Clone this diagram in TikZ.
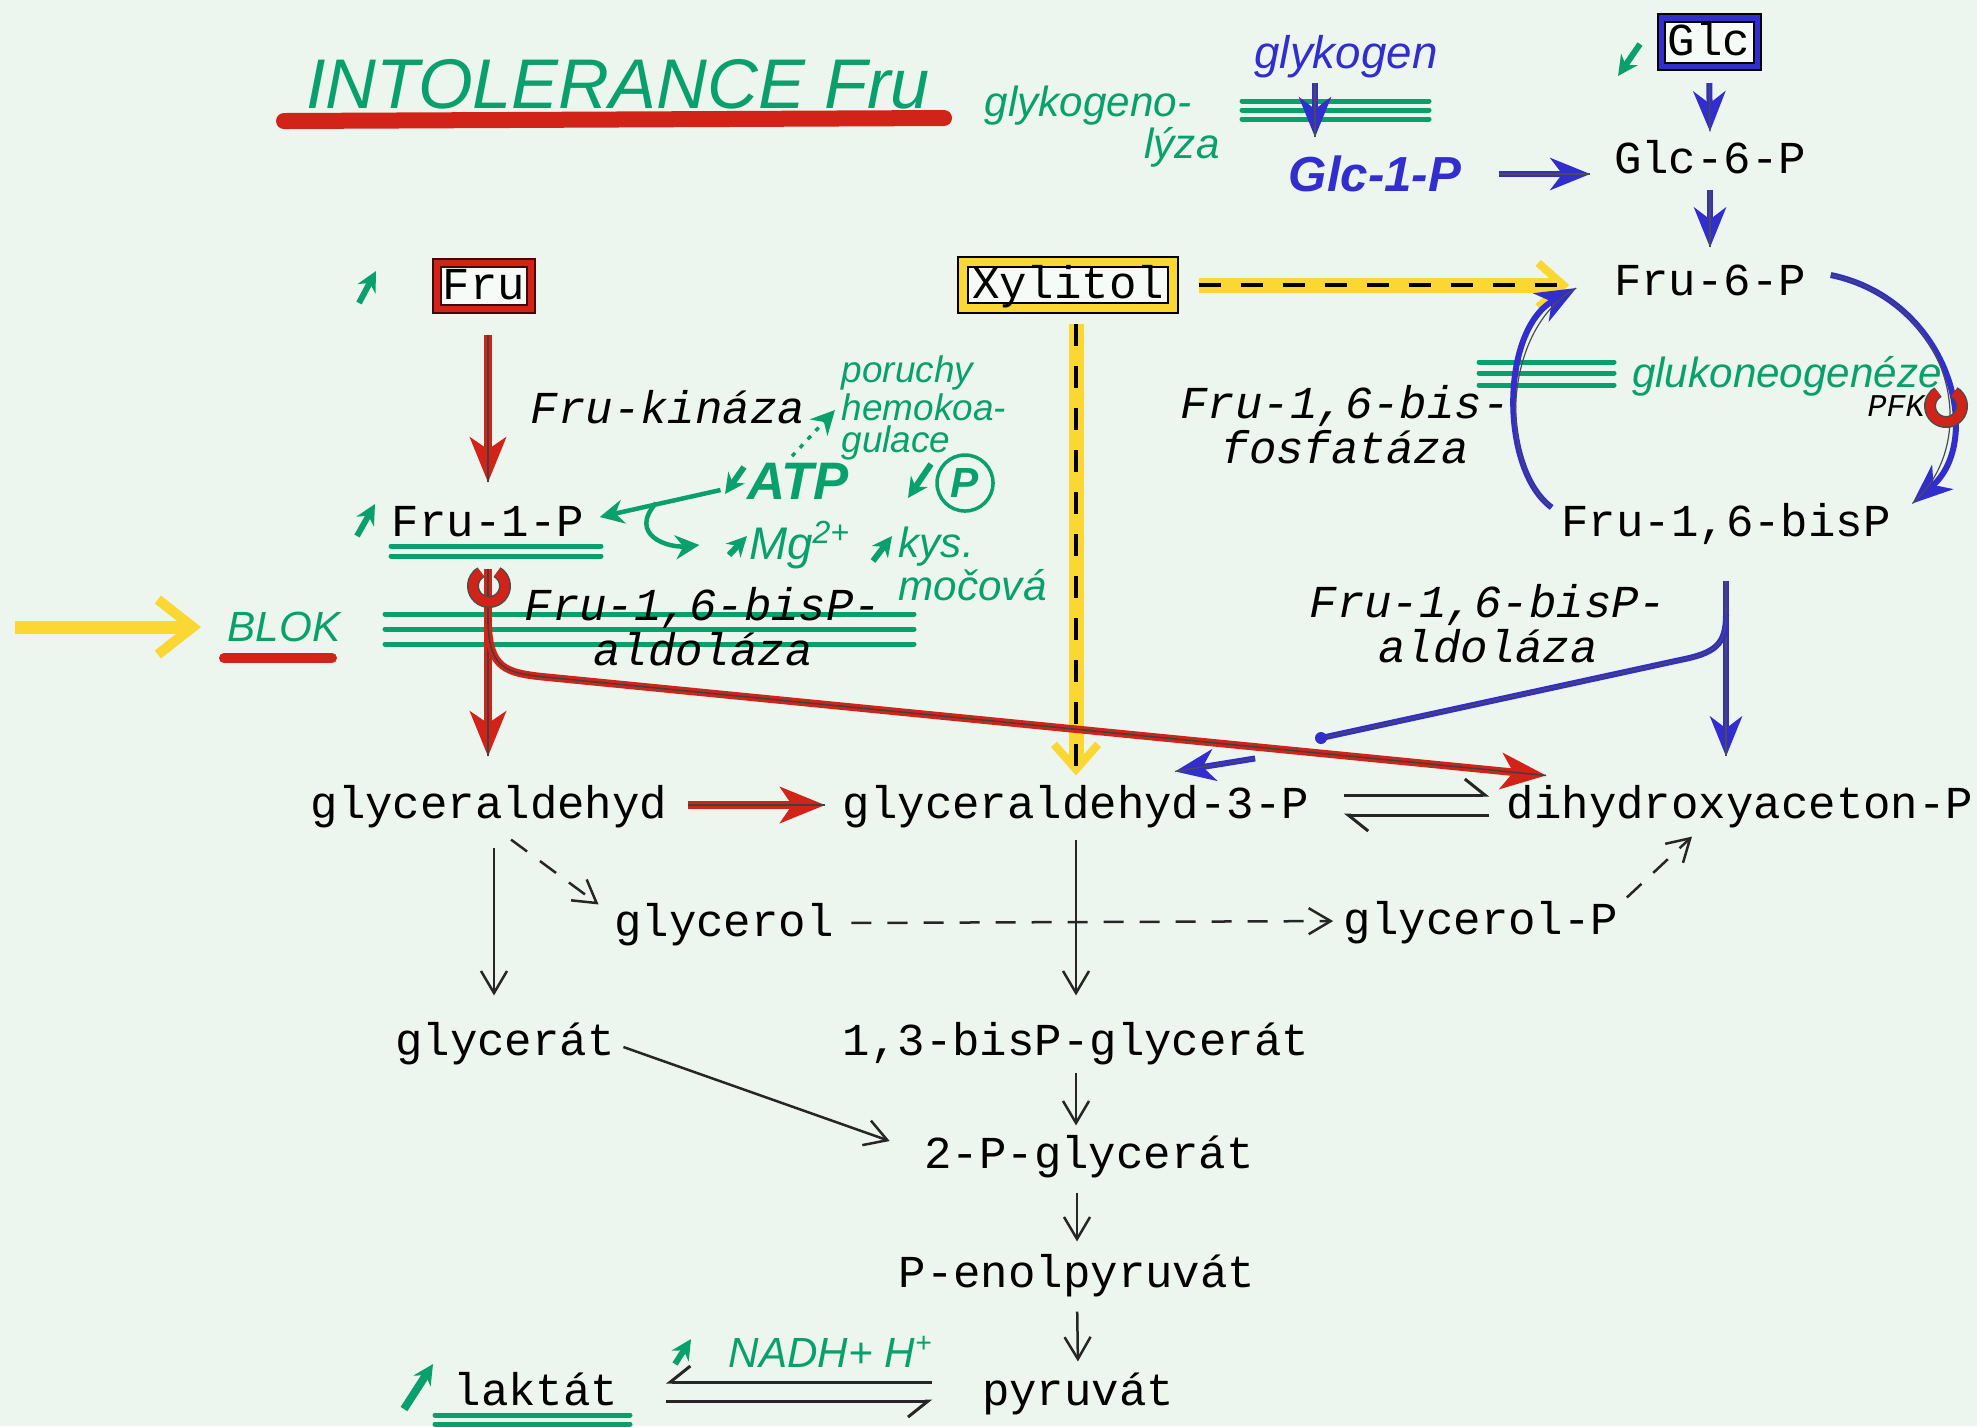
\documentclass[tikz,border=0pt]{standalone}
\usepackage{fontspec}
\setsansfont{Liberation Sans}
\setmonofont{Liberation Mono}
\usepackage{tikz}
\usetikzlibrary{arrows.meta,positioning}

\definecolor{paper}{RGB}{236,246,238}
\definecolor{mgreen}{RGB}{10,160,110}
\definecolor{mred}{RGB}{210,35,25}
\definecolor{mblue}{RGB}{50,45,205}
\definecolor{myellow}{RGB}{250,215,50}

\begin{document}
\begin{tikzpicture}[x=0.01cm,y=-0.01cm,
  tw/.style={font=\ttfamily\fontsize{13}{15}\selectfont, inner sep=0pt,
    text height=10.4pt, text depth=2.6pt},
  twi/.style={font=\ttfamily\itshape\fontsize{13}{11}\selectfont,
    inner sep=0pt, align=center},
  hand/.style={font=\sffamily\itshape\fontsize{12}{8}\selectfont,
    text=mgreen, inner sep=0pt},
  bluehand/.style={font=\sffamily\itshape\fontsize{13}{15}\selectfont,
    text=mblue, inner sep=0pt},
  boxnode/.style={tw, line width=0.2mm, fill=white!60!paper},
  thinarr/.style={draw=black!85, line width=0.25mm,
    -{Straight Barb[length=2.2mm,width=2.6mm]}},
  dasharr/.style={thinarr, dash pattern=on 2mm off 1.6mm},
  harp/.style={draw=black!85, line width=0.3mm,
    -{Straight Barb[harpoon,length=2mm,width=3.2mm]}},
  harpsw/.style={draw=black!85, line width=0.3mm,
    -{Straight Barb[harpoon,swap,length=2mm,width=3.2mm]}},
  redarr/.style={draw=mred, line width=0.75mm,
    -{Stealth[length=4.5mm,width=3.6mm,inset=1.2mm]},
    postaction={draw=black!75, line width=0.15mm, -}},
  bluepath/.style={draw=mblue, line width=0.6mm,
    postaction={draw=black!70, line width=0.12mm, -}},
  bluearr/.style={bluepath,
    -{Stealth[length=4mm,width=3.2mm,inset=1.2mm]}},
  greenarr/.style={draw=mgreen, line width=0.45mm,
    -{Stealth[length=2.4mm,width=2.4mm]}},
  uparr/.style={draw=mgreen, line width=0.6mm, -{Stealth[length=2mm,width=2mm]}},
  ydash/.style={draw=myellow, line width=1.5mm,
    -{Straight Barb[length=2.5mm,width=4.4mm,line width=0.8mm]},
    postaction={draw=black, line width=0.35mm, dash pattern=on 2.2mm off 2mm, -}},
  yarr/.style={draw=myellow, line width=1.3mm,
    -{Straight Barb[length=3.5mm,width=5.5mm,line width=1mm]}},
  blockline/.style={draw=mgreen, line width=0.5mm, line cap=round},
  ring/.style={draw=black!70, double=mred, double distance=0.9mm, line width=0.15mm}
]

\path[use as bounding box, fill=paper] (0,0) rectangle (1977,1426);

% Title
\node[hand, font=\sffamily\itshape\fontsize{20}{24}\selectfont] (title) at (618,84) {INTOLERANCE Fru};
\draw[mred, line width=1.6mm, line cap=round] (284,121) -- (944,118);

% Blocks (green lines)
\foreach \y in {101,110,119} \draw[blockline] (1242,\y) -- (1429,\y);
\foreach \y in {362,373,385} \draw[blockline] (1479,\y) -- (1614,\y);
\foreach \y in {614,629,644} \draw[blockline] (385,\y) -- (914,\y);
\foreach \y in {546,556} \draw[blockline] (391,\y) -- (601,\y);
\foreach \y in {1415,1424} \draw[blockline] (435,\y) -- (630,\y);

% Glucose and glycogen
\node[boxnode, draw=black, double=mblue, double distance=0.5mm,
  minimum width=9.6mm, minimum height=4.8mm] (glc) at (1709,42) {Glc};
\node[tw] (glcsixp) at (1710,160) {Glc-6-P};
\node[tw] (frusixp) at (1710,282) {Fru-6-P};
\node[tw] (frubisp) at (1726,523) {Fru-1,6-bisP};
\node[bluehand] (glykogen) at (1346,57) {glykogen};
\node[bluehand, font=\sffamily\itshape\bfseries\fontsize{14}{16}\selectfont] (glcjednap) at (1375,174) {Glc-1-P};
\node[hand, font=\sffamily\itshape\fontsize{12}{14}\selectfont] (glykogeno) at (1088,106) {glykogeno-};
\node[hand, font=\sffamily\itshape\fontsize{12}{14}\selectfont] (lyza) at (1182,147) {lýza};

\draw[bluearr, shorten <=1.6mm, shorten >=0.5mm] (glc.south) -- (glcsixp.north);
\draw[bluearr, shorten <=0.6mm, shorten >=1.1mm] (glcsixp.south) -- (frusixp.north);
\draw[bluearr, shorten <=0.4mm, shorten >=1.8mm] (1315,0 |- glykogen.south) -- (1315,0 |- glcjednap.north);
\draw[bluearr, shorten <=3.7mm, shorten >=2.3mm] (glcjednap.east) -- (glcjednap.east -| glcsixp.west);
\draw[uparr] (1640,44) -- (1618,76);

% Xylitol
\node[boxnode, draw=black, double=myellow, double distance=0.8mm,
  minimum width=20.9mm, minimum height=4.3mm] (xylitol) at (1068,285) {Xylitol};

% Fructose
\node[boxnode, draw=black!70!mred, double=mred, double distance=0.6mm,
  minimum width=9.3mm, minimum height=4.5mm] (fru) at (484,286) {Fru};
\node[tw] (fru1p) at (488,523) {Fru-1-P};
\node[twi] (frukinaza) at (668,407) {Fru-kináza};
\node[twi] (aldolaseL) at (703,627) {Fru-1,6-bisP-\\aldoláza};
\draw[uparr] (359,303) -- (376,271);
\draw[uparr] (357,536) -- (375,504);

% Main row
\node[tw] (glyald) at (489,805) {glyceraldehyd};
\node[tw] (gap) at (1076,805) {glyceraldehyd-3-P};
\node[tw] (dhap) at (1740,805) {dihydroxyaceton-P};
\node[tw] (glycerol) at (724,923) {glycerol};
\node[tw] (glycerolp) at (1481,921) {glycerol-P};
\node[tw] (glycerat) at (505,1042) {glycerát};
\node[tw] (bpg) at (1076,1042) {1,3-bisP-glycerát};
\node[tw] (pg) at (1089,1155) {2-P-glycerát};
\node[tw] (pep) at (1077,1274) {P-enolpyruvát};
\node[tw] (pyruvat) at (1078,1392) {pyruvát};
\node[tw] (laktat) at (536,1392) {laktát};

% Right cycle
\node[twi] (fosfataza) at (1345,425) {Fru-1,6-bis-\\fosfatáza};
\node[twi] (aldolaseR) at (1488,624) {Fru-1,6-bisP-\\aldoláza};
\node[twi, font=\ttfamily\itshape\fontsize{9}{9}\selectfont] (pfk) at (1896,406) {PFK};
\node[hand] (glukoneo) at (1787,376) {glukoneogenéze};

% Green notes
\node[hand, anchor=west, align=left, font=\sffamily\itshape\fontsize{10.5}{9.2}\selectfont] (poruchy) at (841,408) {poruchy\\hemokoa-\\gulace};
\node[hand, font=\sffamily\itshape\bfseries\fontsize{15}{17}\selectfont] (atp) at (798,481) {ATP};
\node[hand, circle, draw=mgreen, line width=0.35mm, minimum size=5.6mm,
  font=\sffamily\itshape\bfseries\fontsize{12}{12}\selectfont] (pcirc) at (965,483) {P};
\node[hand, font=\sffamily\itshape\fontsize{13}{15}\selectfont] (mg) at (800,545) {Mg\textsuperscript{2+}};
\node[hand, anchor=west, align=left, font=\sffamily\itshape\fontsize{12}{7.5}\selectfont] (kys) at (898,564) {kys.\\močová};
\node[hand] (blok) at (284,627) {BLOK};
\node[hand] (nadh) at (831,1352) {NADH+ H\textsuperscript{+}};

\draw[uparr] (744,467) -- (725,494);
\draw[uparr] (931,464) -- (908,498);
\draw[uparr] (729,555) -- (747,536);
\draw[uparr] (873,561) -- (892,536);
\draw[uparr] (675,1364) -- (691,1339);
\draw[uparr, line width=0.8mm] (404,1409) -- (433,1364);

\draw[greenarr] ([xshift=-2.6mm,yshift=-0.9mm]atp.west) -- ([xshift=1.5mm,yshift=0.6mm]fru1p.east);
\coordinate (hookstart) at (656,503);
\draw[greenarr] (hookstart) .. controls (628,535) and (668,548) .. ([xshift=-4.9mm]mg.west);
\draw[greenarr, dotted, line width=0.35mm] ([xshift=-0.6mm,yshift=0.6mm]atp.north) -- ([xshift=-0.6mm,yshift=-0.2mm]poruchy.west);

% Yellow
\draw[ydash, shorten <=2.5mm, shorten >=4.4mm] (xylitol.east) -- (xylitol.east -| frusixp.west);
\draw[ydash, shorten <=1.5mm, shorten >=0.6mm] (gap.north |- xylitol.south) -- (gap.north);
\coordinate (yellowstart) at (15,627);
\draw[yarr, shorten >=2.6mm] (yellowstart) -- (blok.west);
\draw[mred, line width=1mm, line cap=round] (224,658) -- (332,658);

% Red pathway
\draw[redarr, shorten <=2.5mm, shorten >=1.7mm] (fru1p.north |- fru.south) -- (fru1p.north);
\draw[redarr, shorten <=2.2mm, shorten >=2.5mm] (fru1p.south) -- (fru1p.south |- glyald.north);
\draw[redarr] ([yshift=-7.8mm]fru1p.south) .. controls (490,668) and (505,673) .. (545,677)
  -- ([xshift=4mm,yshift=0.6mm]dhap.north west);
\draw[redarr, shorten <=2mm, shorten >=1.7mm] (glyald.east) -- (gap.west);
\draw[ring] (489,586) ++(-60:16) arc[start angle=-60, end angle=240, radius=16];

% Blue pathway
\draw[bluearr] ([xshift=2.4mm,yshift=0.7mm]frusixp.east) .. controls (1950,300) and (1985,440)
  .. ([xshift=2.1mm,yshift=-0.4mm]frubisp.north east);
\draw[bluearr] ([xshift=-0.9mm,yshift=-0.8mm]frubisp.north west) .. controls (1500,470) and (1500,330)
  .. ([xshift=-3.7mm,yshift=-0.6mm]frusixp.west);
\draw[bluearr, shorten <=3.4mm, shorten >=2.5mm] (frubisp.south) -- (frubisp.south |- dhap.north);
\coordinate (aldoend) at (1321,738);
\draw[bluepath] ([yshift=-6.8mm]frubisp.south) .. controls (1726,645) and (1715,653) .. (1680,660) -- (aldoend);
\fill[mblue] (aldoend) circle (6);
\draw[bluearr] ([xshift=17.9mm,yshift=2.3mm]gap.north) -- ([xshift=9.9mm,yshift=1mm]gap.north);
\draw[ring] (1946,406) ++(-60:16) arc[start angle=-60, end angle=240, radius=16];

% Lower pathway
\draw[harp, shorten <=3.4mm, shorten >=1.7mm] ([yshift=1mm]gap.east) -- ([yshift=1mm]dhap.west);
\draw[harp, shorten <=1.7mm, shorten >=3.4mm] ([yshift=-1mm]dhap.west) -- ([yshift=-1mm]gap.east);
\draw[dasharr] ([xshift=2.2mm,yshift=-1.1mm]glyald.south) -- ([xshift=-1.5mm,yshift=-0.5mm]glycerol.north west);
\draw[dasharr, shorten <=1.7mm, shorten >=1mm] (glycerol.east) -- (glycerolp.west);
\draw[dasharr] ([xshift=0.8mm]glycerolp.north east) -- ([xshift=-4.8mm,yshift=-0.8mm]dhap.south);
\draw[thinarr, shorten <=1.9mm, shorten >=2.3mm] (494,0 |- glyald.south) -- (494,0 |- glycerat.north);
\draw[thinarr, shorten <=1.1mm, shorten >=2.3mm] (gap.south) -- (bpg.north);
\draw[thinarr] ([xshift=0.8mm,yshift=-0.5mm]glycerat.east) -- ([xshift=-3.4mm,yshift=1.4mm]pg.west);
\draw[thinarr, shorten <=0.7mm, shorten >=0.6mm] (bpg.south) -- (bpg.south |- pg.north);
\draw[thinarr, shorten <=1.4mm, shorten >=0.9mm] (pep.north |- pg.south) -- (pep.north);
\draw[thinarr, shorten <=1.4mm, shorten >=0.7mm] (pep.south) -- (pyruvat.north);
\draw[harpsw, shorten <=4.9mm, shorten >=4.7mm] ([yshift=1mm]pyruvat.west) -- ([yshift=1mm]laktat.east);
\draw[harpsw, shorten <=4.7mm, shorten >=4.9mm] ([yshift=-0.9mm]laktat.east) -- ([yshift=-0.9mm]pyruvat.west);

\end{tikzpicture}
\end{document}
